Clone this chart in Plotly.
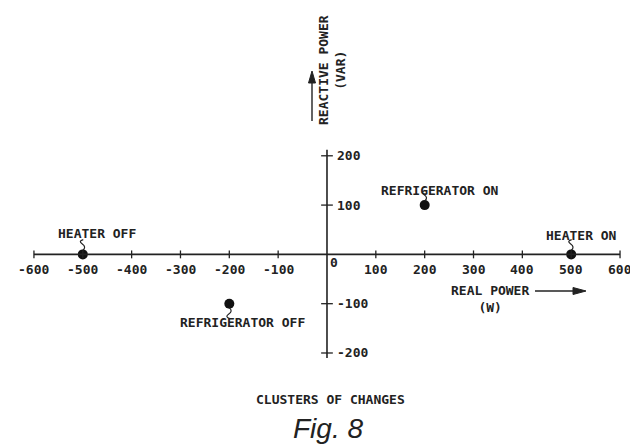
import plotly.graph_objects as go

# ---- data ----
cluster_names = ["HEATER OFF", "HEATER ON", "REFRIGERATOR ON", "REFRIGERATOR OFF"]
real_power = [-500, 500, 200, -200]        # W
reactive_power = [0, 0, 100, -100]         # VAR
x_ticks = [-600, -500, -400, -300, -200, -100, 100, 200, 300, 400, 500, 600]
y_ticks = [200, 100, -100, -200]

# label offsets (data units) relative to each point, and leader direction
label_dx = [30, 22, 31, 27]
label_dy = [43, 39, 29, -39]
leader_dir = [1, 1, 1, -1]

INK = "#222222"
FONT = "DejaVu Sans Mono"
W, H = 630, 444


def px(x):
    return x / W


def py(y):
    return 1 - y / H


fig = go.Figure()

shapes = []
# x axis line
shapes.append(dict(type="line", xref="x", yref="y", x0=min(x_ticks), x1=max(x_ticks), y0=0, y1=0,
                   line=dict(color=INK, width=1.6)))
# y axis line
shapes.append(dict(type="line", xref="x", yref="y", x0=0, x1=0, y0=-210, y1=212,
                   line=dict(color=INK, width=1.6)))
# x tick marks
for t in x_ticks:
    shapes.append(dict(type="line", xref="x", yref="y", x0=t, x1=t, y0=-8, y1=8,
                       line=dict(color=INK, width=1.3)))
# y tick marks
for t in y_ticks:
    shapes.append(dict(type="line", xref="x", yref="y", x0=-12, x1=12, y0=t, y1=t,
                       line=dict(color=INK, width=1.3)))
# leaders (small squiggles) from point toward label
for x, y, d in zip(real_power, reactive_power, leader_dir):
    p = (f"M {x},{y + d*8} Q {x + 8},{y + d*15} {x - 1},{y + d*21} "
         f"T {x + 1},{y + d*30}")
    shapes.append(dict(type="path", xref="x", yref="y", path=p,
                       line=dict(color=INK, width=1.2)))

# direction arrows next to the axis titles (paper coords)
shapes.append(dict(type="line", xref="paper", yref="paper", x0=px(312), x1=px(312),
                   y0=py(121), y1=py(80), line=dict(color=INK, width=1.4)))
shapes.append(dict(type="path", xref="paper", yref="paper",
                   path=f"M {px(312)},{py(71)} L {px(308.5)},{py(83)} L {px(315.5)},{py(83)} Z",
                   fillcolor=INK, line=dict(color=INK, width=1)))
shapes.append(dict(type="line", xref="paper", yref="paper", x0=px(535), x1=px(576),
                   y0=py(291), y1=py(291), line=dict(color=INK, width=1.4)))
shapes.append(dict(type="path", xref="paper", yref="paper",
                   path=f"M {px(586)},{py(291)} L {px(573)},{py(287.5)} L {px(573)},{py(294.5)} Z",
                   fillcolor=INK, line=dict(color=INK, width=1)))

fig.add_trace(go.Scatter(x=real_power, y=reactive_power, mode="markers",
                         marker=dict(color="#111", size=10), hoverinfo="skip",
                         showlegend=False))

ann = []
lab_font = dict(family=FONT, size=13, color=INK, weight="bold")
# x tick labels
for t in x_ticks:
    ann.append(dict(x=t, y=-30, xref="x", yref="y", text=str(t), showarrow=False,
                    xanchor="center", yanchor="middle", font=lab_font))
ann.append(dict(x=3, y=-16, xref="x", yref="y", text="0", showarrow=False, xanchor="left",
                yanchor="middle", font=lab_font))
# y tick labels
for t in y_ticks:
    ann.append(dict(x=16, y=t, xref="x", yref="y", text=str(t), showarrow=False, xanchor="left",
                    yanchor="middle", font=lab_font))
# cluster labels
for n, x, y, dx, dy in zip(cluster_names, real_power, reactive_power, label_dx, label_dy):
    ann.append(dict(x=x + dx, y=y + dy, xref="x", yref="y", text=n, showarrow=False,
                    xanchor="center", yanchor="middle", font=lab_font))

# axis titles
ann.append(dict(x=px(332), y=py(70), xref="paper", yref="paper",
                text="REACTIVE POWER<br>(VAR)", textangle=-90, showarrow=False,
                xanchor="center", yanchor="middle", font=lab_font))
ann.append(dict(x=px(490), y=py(299), xref="paper", yref="paper",
                text="REAL POWER<br>(W)", showarrow=False,
                xanchor="center", yanchor="middle", font=lab_font))
# captions
ann.append(dict(x=px(330), y=py(399), xref="paper", yref="paper",
                text="CLUSTERS OF CHANGES", showarrow=False,
                xanchor="center", yanchor="middle", font=lab_font))
ann.append(dict(x=px(328), y=py(428), xref="paper", yref="paper",
                text="<i>Fig. 8</i>", showarrow=False, xanchor="center", yanchor="middle",
                font=dict(family="Liberation Sans", size=28, color=INK)))

fig.update_layout(
    width=W, height=H,
    margin=dict(l=0, r=0, t=0, b=0),
    paper_bgcolor="white", plot_bgcolor="white",
    xaxis=dict(range=[-669.5, 620.4], visible=False, fixedrange=True),
    yaxis=dict(range=[-384.6, 516.0], visible=False, fixedrange=True),
    shapes=shapes, annotations=ann, showlegend=False,
)

fig.write_html("out.html", config={"displayModeBar": False},
               post_script="document.body.style.margin='0';document.body.style.overflow='hidden';")
